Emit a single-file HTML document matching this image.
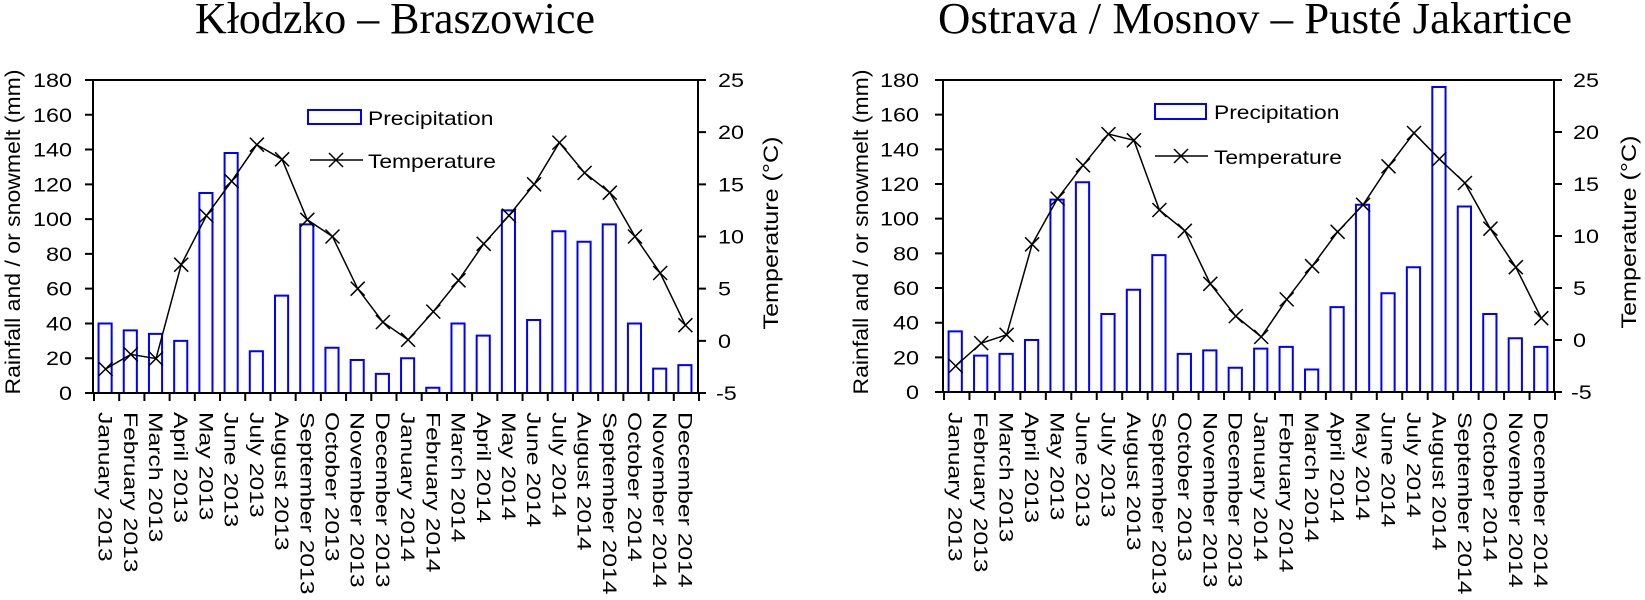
<!DOCTYPE html>
<html><head><meta charset="utf-8"><style>
html,body{margin:0;padding:0;background:#fff;}
svg{display:block;}
text{font-family:"Liberation Sans",sans-serif;fill:#000;}
.t{font-family:"Liberation Serif",serif;}
.b{fill:none;stroke:#0000ff;stroke-width:2;}
.l{fill:none;stroke:#000;stroke-width:1.5;}
</style></head><body>
<svg width="1645" height="600" viewBox="0 0 1645 600" xmlns="http://www.w3.org/2000/svg">
<defs><path id="xm" d="M-7,-7L7,7M-7,7L7,-7" stroke="#000" stroke-width="1.5" fill="none"/></defs>
<text class="t" x="195" y="33" font-size="44" textLength="400" lengthAdjust="spacingAndGlyphs">Kłodzko – Braszowice</text>
<text class="t" x="938" y="33" font-size="44" textLength="634" lengthAdjust="spacingAndGlyphs">Ostrava / Mosnov – Pusté Jakartice</text>

<!-- LEFT CHART -->
<g transform="translate(93,393) scale(25.2083,-1.7389)">
<g class="b">
<rect x="0.22" y="0" width="0.52" height="40" vector-effect="non-scaling-stroke"/>
<rect x="1.22" y="0" width="0.52" height="36" vector-effect="non-scaling-stroke"/>
<rect x="2.22" y="0" width="0.52" height="34" vector-effect="non-scaling-stroke"/>
<rect x="3.22" y="0" width="0.52" height="30" vector-effect="non-scaling-stroke"/>
<rect x="4.22" y="0" width="0.52" height="115" vector-effect="non-scaling-stroke"/>
<rect x="5.22" y="0" width="0.52" height="138" vector-effect="non-scaling-stroke"/>
<rect x="6.22" y="0" width="0.52" height="24" vector-effect="non-scaling-stroke"/>
<rect x="7.22" y="0" width="0.52" height="56" vector-effect="non-scaling-stroke"/>
<rect x="8.22" y="0" width="0.52" height="97" vector-effect="non-scaling-stroke"/>
<rect x="9.22" y="0" width="0.52" height="26" vector-effect="non-scaling-stroke"/>
<rect x="10.22" y="0" width="0.52" height="19" vector-effect="non-scaling-stroke"/>
<rect x="11.22" y="0" width="0.52" height="11" vector-effect="non-scaling-stroke"/>
<rect x="12.22" y="0" width="0.52" height="20" vector-effect="non-scaling-stroke"/>
<rect x="13.22" y="0" width="0.52" height="3" vector-effect="non-scaling-stroke"/>
<rect x="14.22" y="0" width="0.52" height="40" vector-effect="non-scaling-stroke"/>
<rect x="15.22" y="0" width="0.52" height="33" vector-effect="non-scaling-stroke"/>
<rect x="16.22" y="0" width="0.52" height="105" vector-effect="non-scaling-stroke"/>
<rect x="17.22" y="0" width="0.52" height="42" vector-effect="non-scaling-stroke"/>
<rect x="18.22" y="0" width="0.52" height="93" vector-effect="non-scaling-stroke"/>
<rect x="19.22" y="0" width="0.52" height="87" vector-effect="non-scaling-stroke"/>
<rect x="20.22" y="0" width="0.52" height="97" vector-effect="non-scaling-stroke"/>
<rect x="21.22" y="0" width="0.52" height="40" vector-effect="non-scaling-stroke"/>
<rect x="22.22" y="0" width="0.52" height="14" vector-effect="non-scaling-stroke"/>
<rect x="23.22" y="0" width="0.52" height="16" vector-effect="non-scaling-stroke"/>
</g>
</g>
<g transform="translate(93,393) scale(25.2083,-10.4333)">
<polyline class="l" vector-effect="non-scaling-stroke" points="0.5,2.3 1.5,3.7 2.5,3.3 3.5,12.3 4.5,17 5.5,20.3 6.5,23.8 7.5,22.4 8.5,16.6 9.5,15 10.5,10 11.5,6.8 12.5,5.1 13.5,7.8 14.5,10.8 15.5,14.3 16.5,17 17.5,20 18.5,24 19.5,21.1 20.5,19.2 21.5,15 22.5,11.5 23.5,6.5"/>
<g transform="scale(0.039669,-0.095847)">
<use href="#xm" x="12.6" y="-24.0"/><use href="#xm" x="37.8" y="-38.6"/><use href="#xm" x="63.0" y="-34.4"/><use href="#xm" x="88.2" y="-128.3"/><use href="#xm" x="113.4" y="-177.4"/><use href="#xm" x="138.6" y="-211.8"/><use href="#xm" x="163.9" y="-248.3"/><use href="#xm" x="189.1" y="-233.7"/><use href="#xm" x="214.3" y="-173.2"/><use href="#xm" x="239.5" y="-156.5"/><use href="#xm" x="264.7" y="-104.3"/><use href="#xm" x="289.9" y="-70.9"/><use href="#xm" x="315.1" y="-53.2"/><use href="#xm" x="340.3" y="-81.4"/><use href="#xm" x="365.5" y="-112.7"/><use href="#xm" x="390.7" y="-149.2"/><use href="#xm" x="416.0" y="-177.4"/><use href="#xm" x="441.1" y="-208.7"/><use href="#xm" x="466.4" y="-250.4"/><use href="#xm" x="491.6" y="-220.1"/><use href="#xm" x="516.8" y="-200.3"/><use href="#xm" x="542.0" y="-156.5"/><use href="#xm" x="567.2" y="-120.0"/><use href="#xm" x="592.4" y="-67.8"/>
</g>
</g>
<g stroke="#000" fill="none">
<rect x="93" y="80" width="605" height="313" stroke-width="2"/>
<line x1="93" y1="397" x2="700" y2="397" stroke-width="8" stroke-dasharray="2 23.2083"/>
<line x1="89" y1="79" x2="89" y2="395" stroke-width="8" stroke-dasharray="2 32.78"/>
<line x1="702" y1="79" x2="702" y2="395" stroke-width="8" stroke-dasharray="2 50.17"/>
</g>
<g font-size="19" text-anchor="end">
<text transform="translate(72,400) scale(1.23,1)">0</text>
<text transform="translate(72,365.2) scale(1.23,1)">20</text>
<text transform="translate(72,330.4) scale(1.23,1)">40</text>
<text transform="translate(72,295.7) scale(1.23,1)">60</text>
<text transform="translate(72,260.9) scale(1.23,1)">80</text>
<text transform="translate(72,226.1) scale(1.23,1)">100</text>
<text transform="translate(72,191.3) scale(1.23,1)">120</text>
<text transform="translate(72,156.5) scale(1.23,1)">140</text>
<text transform="translate(72,121.8) scale(1.23,1)">160</text>
<text transform="translate(72,87) scale(1.23,1)">180</text>
</g>
<g font-size="19">
<text transform="translate(716,400) scale(1.23,1)">-5</text>
<text transform="translate(718,347.8) scale(1.23,1)">0</text>
<text transform="translate(718,295.7) scale(1.23,1)">5</text>
<text transform="translate(718,243.5) scale(1.23,1)">10</text>
<text transform="translate(718,191.3) scale(1.23,1)">15</text>
<text transform="translate(718,139.2) scale(1.23,1)">20</text>
<text transform="translate(718,87) scale(1.23,1)">25</text>
</g>
<text transform="translate(20,232) rotate(-90)" font-size="21" text-anchor="middle" textLength="325" lengthAdjust="spacingAndGlyphs">Rainfall and / or snowmelt (mm)</text>
<text transform="translate(778,233) rotate(-90)" font-size="21" text-anchor="middle" textLength="193" lengthAdjust="spacingAndGlyphs">Temperature (°C)</text>
<rect x="308" y="110" width="53" height="14" class="b"/>
<text transform="translate(368,125) scale(1.2,1)" font-size="19">Precipitation</text>
<line x1="310" y1="160" x2="363" y2="160" class="l"/><use href="#xm" x="336" y="160"/>
<text transform="translate(368,168) scale(1.2,1)" font-size="19">Temperature</text>
<g font-size="19">
<text transform="translate(98.6,412) rotate(90) scale(1.3,1)">January 2013</text>
<text transform="translate(123.8,412) rotate(90) scale(1.3,1)">February 2013</text>
<text transform="translate(149.0,412) rotate(90) scale(1.3,1)">March 2013</text>
<text transform="translate(174.2,412) rotate(90) scale(1.3,1)">April 2013</text>
<text transform="translate(199.4,412) rotate(90) scale(1.3,1)">May 2013</text>
<text transform="translate(224.7,412) rotate(90) scale(1.3,1)">June 2013</text>
<text transform="translate(249.9,412) rotate(90) scale(1.3,1)">July 2013</text>
<text transform="translate(275.1,412) rotate(90) scale(1.3,1)">August 2013</text>
<text transform="translate(300.3,412) rotate(90) scale(1.3,1)">September 2013</text>
<text transform="translate(325.5,412) rotate(90) scale(1.3,1)">October 2013</text>
<text transform="translate(350.7,412) rotate(90) scale(1.3,1)">November 2013</text>
<text transform="translate(375.9,412) rotate(90) scale(1.3,1)">December 2013</text>
<text transform="translate(401.1,412) rotate(90) scale(1.3,1)">January 2014</text>
<text transform="translate(426.3,412) rotate(90) scale(1.3,1)">February 2014</text>
<text transform="translate(451.6,412) rotate(90) scale(1.3,1)">March 2014</text>
<text transform="translate(476.8,412) rotate(90) scale(1.3,1)">April 2014</text>
<text transform="translate(502.0,412) rotate(90) scale(1.3,1)">May 2014</text>
<text transform="translate(527.2,412) rotate(90) scale(1.3,1)">June 2014</text>
<text transform="translate(552.4,412) rotate(90) scale(1.3,1)">July 2014</text>
<text transform="translate(577.6,412) rotate(90) scale(1.3,1)">August 2014</text>
<text transform="translate(602.8,412) rotate(90) scale(1.3,1)">September 2014</text>
<text transform="translate(628.0,412) rotate(90) scale(1.3,1)">October 2014</text>
<text transform="translate(653.2,412) rotate(90) scale(1.3,1)">November 2014</text>
<text transform="translate(678.5,412) rotate(90) scale(1.3,1)">December 2014</text>
</g>

<!-- RIGHT CHART -->
<g transform="translate(943,392) scale(25.4583,-1.7333)">
<g class="b">
<rect x="0.22" y="0" width="0.52" height="35" vector-effect="non-scaling-stroke"/>
<rect x="1.22" y="0" width="0.52" height="21" vector-effect="non-scaling-stroke"/>
<rect x="2.22" y="0" width="0.52" height="22" vector-effect="non-scaling-stroke"/>
<rect x="3.22" y="0" width="0.52" height="30" vector-effect="non-scaling-stroke"/>
<rect x="4.22" y="0" width="0.52" height="111" vector-effect="non-scaling-stroke"/>
<rect x="5.22" y="0" width="0.52" height="121" vector-effect="non-scaling-stroke"/>
<rect x="6.22" y="0" width="0.52" height="45" vector-effect="non-scaling-stroke"/>
<rect x="7.22" y="0" width="0.52" height="59" vector-effect="non-scaling-stroke"/>
<rect x="8.22" y="0" width="0.52" height="79" vector-effect="non-scaling-stroke"/>
<rect x="9.22" y="0" width="0.52" height="22" vector-effect="non-scaling-stroke"/>
<rect x="10.22" y="0" width="0.52" height="24" vector-effect="non-scaling-stroke"/>
<rect x="11.22" y="0" width="0.52" height="14" vector-effect="non-scaling-stroke"/>
<rect x="12.22" y="0" width="0.52" height="25" vector-effect="non-scaling-stroke"/>
<rect x="13.22" y="0" width="0.52" height="26" vector-effect="non-scaling-stroke"/>
<rect x="14.22" y="0" width="0.52" height="13" vector-effect="non-scaling-stroke"/>
<rect x="15.22" y="0" width="0.52" height="49" vector-effect="non-scaling-stroke"/>
<rect x="16.22" y="0" width="0.52" height="108" vector-effect="non-scaling-stroke"/>
<rect x="17.22" y="0" width="0.52" height="57" vector-effect="non-scaling-stroke"/>
<rect x="18.22" y="0" width="0.52" height="72" vector-effect="non-scaling-stroke"/>
<rect x="19.22" y="0" width="0.52" height="176" vector-effect="non-scaling-stroke"/>
<rect x="20.22" y="0" width="0.52" height="107" vector-effect="non-scaling-stroke"/>
<rect x="21.22" y="0" width="0.52" height="45" vector-effect="non-scaling-stroke"/>
<rect x="22.22" y="0" width="0.52" height="31" vector-effect="non-scaling-stroke"/>
<rect x="23.22" y="0" width="0.52" height="26" vector-effect="non-scaling-stroke"/>
</g>
</g>
<g transform="translate(943,392) scale(25.4583,-10.4)">
<polyline class="l" vector-effect="non-scaling-stroke" points="0.5,2.5 1.5,4.7 2.5,5.5 3.5,14.2 4.5,18.6 5.5,21.8 6.5,24.8 7.5,24.2 8.5,17.5 9.5,15.5 10.5,10.4 11.5,7.3 12.5,5.3 13.5,8.9 14.5,12.1 15.5,15.4 16.5,18 17.5,21.7 18.5,24.9 19.5,22.4 20.5,20.1 21.5,15.7 22.5,12 23.5,7.1"/>
<g transform="scale(0.03928,-0.096154)">
<use href="#xm" x="12.7" y="-26"/><use href="#xm" x="38.2" y="-48.9"/><use href="#xm" x="63.6" y="-57.2"/><use href="#xm" x="89.1" y="-147.7"/><use href="#xm" x="114.6" y="-193.4"/><use href="#xm" x="140.0" y="-226.7"/><use href="#xm" x="165.5" y="-257.9"/><use href="#xm" x="190.9" y="-251.7"/><use href="#xm" x="216.4" y="-182"/><use href="#xm" x="241.8" y="-161.2"/><use href="#xm" x="267.3" y="-108.2"/><use href="#xm" x="292.8" y="-75.9"/><use href="#xm" x="318.2" y="-55.1"/><use href="#xm" x="343.7" y="-92.6"/><use href="#xm" x="369.1" y="-125.8"/><use href="#xm" x="394.6" y="-160.2"/><use href="#xm" x="420.1" y="-187.2"/><use href="#xm" x="445.5" y="-225.7"/><use href="#xm" x="471.0" y="-259"/><use href="#xm" x="496.4" y="-233"/><use href="#xm" x="521.9" y="-209"/><use href="#xm" x="547.4" y="-163.3"/><use href="#xm" x="572.8" y="-124.8"/><use href="#xm" x="598.3" y="-73.8"/>
</g>
</g>
<g stroke="#000" fill="none">
<rect x="943" y="80" width="611" height="312" stroke-width="2"/>
<line x1="943" y1="396" x2="1556" y2="396" stroke-width="8" stroke-dasharray="2 23.4583"/>
<line x1="939" y1="79" x2="939" y2="394" stroke-width="8" stroke-dasharray="2 32.67"/>
<line x1="1558" y1="79" x2="1558" y2="394" stroke-width="8" stroke-dasharray="2 50"/>
</g>
<g font-size="19" text-anchor="end">
<text transform="translate(919,399) scale(1.23,1)">0</text>
<text transform="translate(919,364.3) scale(1.23,1)">20</text>
<text transform="translate(919,329.7) scale(1.23,1)">40</text>
<text transform="translate(919,295) scale(1.23,1)">60</text>
<text transform="translate(919,260.3) scale(1.23,1)">80</text>
<text transform="translate(919,225.7) scale(1.23,1)">100</text>
<text transform="translate(919,191) scale(1.23,1)">120</text>
<text transform="translate(919,156.3) scale(1.23,1)">140</text>
<text transform="translate(919,121.7) scale(1.23,1)">160</text>
<text transform="translate(919,87) scale(1.23,1)">180</text>
</g>
<g font-size="19">
<text transform="translate(1571,399) scale(1.23,1)">-5</text>
<text transform="translate(1573,347) scale(1.23,1)">0</text>
<text transform="translate(1573,295) scale(1.23,1)">5</text>
<text transform="translate(1573,243) scale(1.23,1)">10</text>
<text transform="translate(1573,191) scale(1.23,1)">15</text>
<text transform="translate(1573,139) scale(1.23,1)">20</text>
<text transform="translate(1573,87) scale(1.23,1)">25</text>
</g>
<text transform="translate(868,232) rotate(-90)" font-size="21" text-anchor="middle" textLength="325" lengthAdjust="spacingAndGlyphs">Rainfall and / or snowmelt (mm)</text>
<text transform="translate(1636,232) rotate(-90)" font-size="21" text-anchor="middle" textLength="193" lengthAdjust="spacingAndGlyphs">Temperature (°C)</text>
<rect x="1155" y="104" width="51" height="15" class="b"/>
<text transform="translate(1214,119) scale(1.2,1)" font-size="19">Precipitation</text>
<line x1="1155" y1="156" x2="1208" y2="156" class="l"/><use href="#xm" x="1181" y="156"/>
<text transform="translate(1214,164) scale(1.2,1)" font-size="19">Temperature</text>
<g font-size="19">
<text transform="translate(948.7,412) rotate(90) scale(1.3,1)">January 2013</text>
<text transform="translate(974.2,412) rotate(90) scale(1.3,1)">February 2013</text>
<text transform="translate(999.6,412) rotate(90) scale(1.3,1)">March 2013</text>
<text transform="translate(1025.1,412) rotate(90) scale(1.3,1)">April 2013</text>
<text transform="translate(1050.5,412) rotate(90) scale(1.3,1)">May 2013</text>
<text transform="translate(1076.0,412) rotate(90) scale(1.3,1)">June 2013</text>
<text transform="translate(1101.4,412) rotate(90) scale(1.3,1)">July 2013</text>
<text transform="translate(1126.9,412) rotate(90) scale(1.3,1)">August 2013</text>
<text transform="translate(1152.4,412) rotate(90) scale(1.3,1)">September 2013</text>
<text transform="translate(1177.8,412) rotate(90) scale(1.3,1)">October 2013</text>
<text transform="translate(1203.3,412) rotate(90) scale(1.3,1)">November 2013</text>
<text transform="translate(1228.7,412) rotate(90) scale(1.3,1)">December 2013</text>
<text transform="translate(1254.2,412) rotate(90) scale(1.3,1)">January 2014</text>
<text transform="translate(1279.6,412) rotate(90) scale(1.3,1)">February 2014</text>
<text transform="translate(1305.1,412) rotate(90) scale(1.3,1)">March 2014</text>
<text transform="translate(1330.6,412) rotate(90) scale(1.3,1)">April 2014</text>
<text transform="translate(1356.0,412) rotate(90) scale(1.3,1)">May 2014</text>
<text transform="translate(1381.5,412) rotate(90) scale(1.3,1)">June 2014</text>
<text transform="translate(1406.9,412) rotate(90) scale(1.3,1)">July 2014</text>
<text transform="translate(1432.4,412) rotate(90) scale(1.3,1)">August 2014</text>
<text transform="translate(1457.8,412) rotate(90) scale(1.3,1)">September 2014</text>
<text transform="translate(1483.3,412) rotate(90) scale(1.3,1)">October 2014</text>
<text transform="translate(1508.8,412) rotate(90) scale(1.3,1)">November 2014</text>
<text transform="translate(1534.2,412) rotate(90) scale(1.3,1)">December 2014</text>
</g>
</svg>
</body></html>
